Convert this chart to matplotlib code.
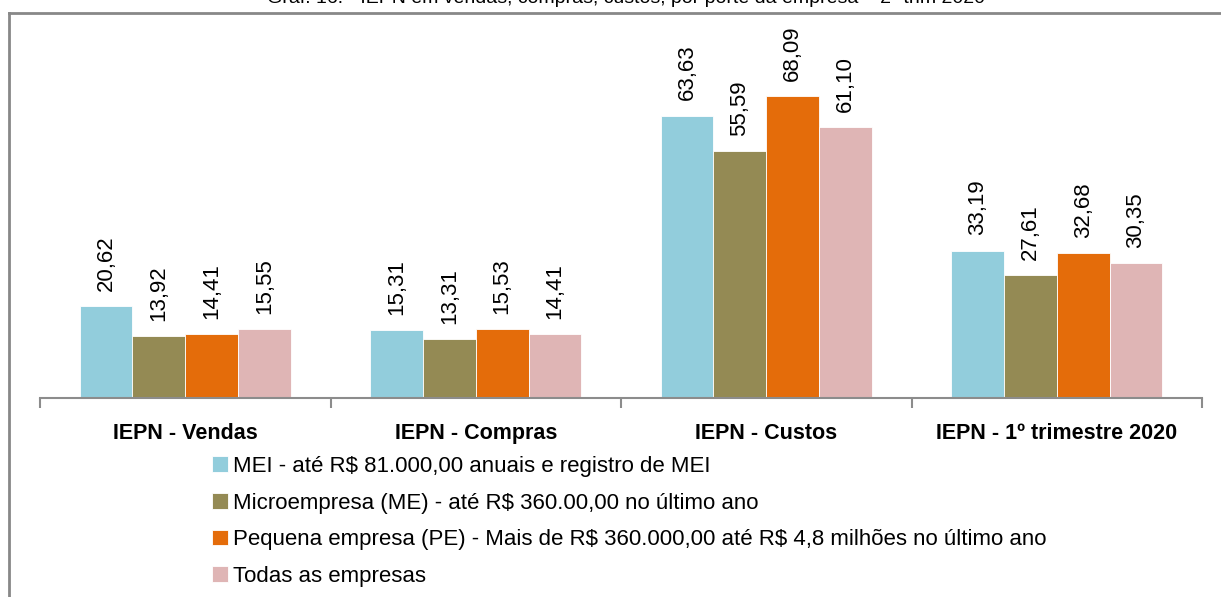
import numpy as np
import matplotlib
matplotlib.use('Agg')
import matplotlib.pyplot as plt
from matplotlib.lines import Line2D

plt.rcParams['font.family'] = ['Liberation Sans', 'DejaVu Sans']
plt.rcParams['text.parse_math'] = False

categorias = ['IEPN - Vendas', 'IEPN - Compras', 'IEPN - Custos', 'IEPN - 1º trimestre 2020']
series = [
    'MEI - até R$ 81.000,00 anuais e registro de MEI',
    'Microempresa (ME) - até R$ 360.00,00 no último ano',
    'Pequena empresa (PE) - Mais de R$ 360.000,00 até R$ 4,8 milhões no último ano',
    'Todas as empresas',
]
mei = [20.62, 15.31, 63.63, 33.19]
me = [13.92, 13.31, 55.59, 27.61]
pe = [14.41, 15.53, 68.09, 32.68]
todas = [15.55, 14.41, 61.10, 30.35]
cores = ['#92CDDC', '#948A54', '#E46C0A', '#DFB5B5']

titulo = 'Graf. 16. - IEPN em vendas, compras, custos, por porte da empresa – 2º trim 2020'

fig = plt.figure(figsize=(12.21, 5.97), dpi=100)
ax = fig.add_axes([40 / 1221, 1 - 398 / 597, (1202 - 40) / 1221, 355 / 597])

x = np.arange(len(categorias))
largura = 0.1816
valores = [mei, me, pe, todas]
for i, (vals, cor, nome) in enumerate(zip(valores, cores, series)):
    pos = x + (i - 1.5) * largura
    barras = ax.bar(pos, vals, largura, color=cor, edgecolor='white', linewidth=0.6, label=nome)
    for b, v in zip(barras, vals):
        ax.annotate(f'{v:.2f}'.replace('.', ','), (b.get_x() + b.get_width() / 2, v),
                    xytext=(0, 11), textcoords='offset points', rotation=90,
                    ha='center', va='bottom', fontsize=16, clip_on=False)

ax.set_xlim(-0.5, 3.5)
ax.set_ylim(0, 80)
for s in ['top', 'right', 'left']:
    ax.spines[s].set_visible(False)
ax.spines['bottom'].set_color('#8C8C8C')
ax.spines['bottom'].set_linewidth(1.5)
ax.set_yticks([])
ax.set_xticks(x)
ax.set_xticklabels(categorias, fontsize=15.5, fontweight='bold')
ax.tick_params(axis='x', which='major', length=0, pad=18)
ax.set_xticks(np.arange(-0.5, 4, 1), minor=True)
ax.tick_params(axis='x', which='minor', length=7, width=1.5, color='#8C8C8C', direction='out')

ax.legend(loc='upper left', bbox_to_anchor=(212 / 1221, 1 - 456 / 597), bbox_transform=fig.transFigure,
          frameon=False, fontsize=16, handlelength=0.7, handleheight=0.7,
          handletextpad=0.25, labelspacing=0.7, borderaxespad=0, borderpad=0)

# moldura do gráfico
fig.add_artist(Line2D([8.5 / 1221, 1], [1 - 12.5 / 597] * 2, transform=fig.transFigure, color='#888888', lw=2))
fig.add_artist(Line2D([8.5 / 1221] * 2, [0, 1 - 12.5 / 597], transform=fig.transFigure, color='#888888', lw=2))

fig.text(626 / 1221, 1 - 3 / 597, titulo, ha='center', va='baseline', fontsize=14)

fig.savefig('out.png', dpi=100)
